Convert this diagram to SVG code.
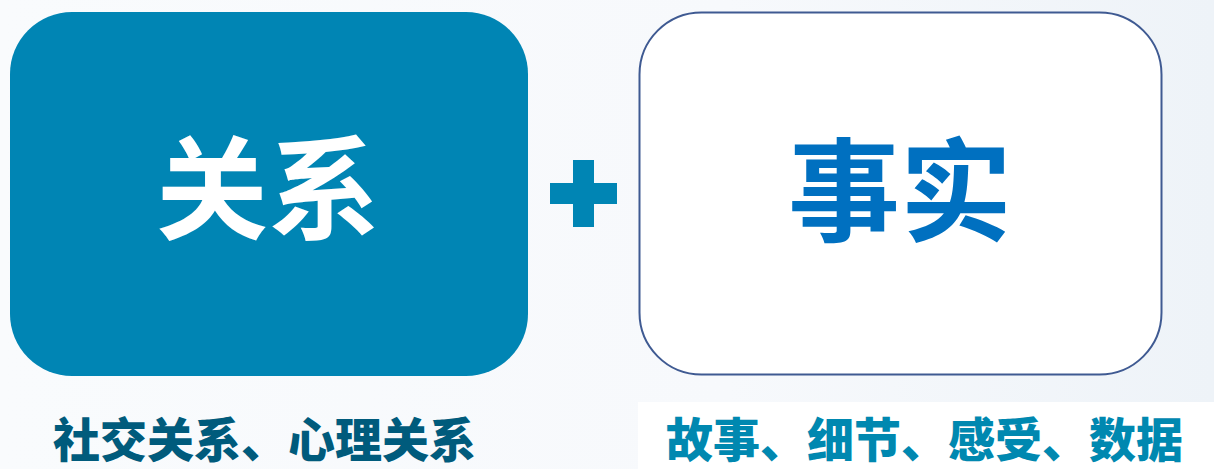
<svg xmlns="http://www.w3.org/2000/svg" width="1214" height="469" viewBox="0 0 1214 469">
  <defs>
    <linearGradient id="bg" x1="0" y1="0" x2="1" y2="0">
      <stop offset="0" stop-color="#f9fbfd"/>
      <stop offset="0.6" stop-color="#f7f9fc"/>
      <stop offset="1" stop-color="#eef3f8"/>
    </linearGradient>
    <style>
      .title { font-family: "Noto Sans CJK SC", sans-serif; font-weight: 700; font-size: 112px; text-anchor: middle; }
      .label { font-family: "Noto Sans CJK SC", sans-serif; font-weight: 900; font-size: 47px; }
    </style>
  </defs>
  <rect x="0" y="0" width="1214" height="469" fill="url(#bg)"/>
  <rect x="638" y="402" width="576" height="67" fill="#ffffff"/>

  <g id="node-relation">
    <rect x="10" y="12" width="518" height="364" rx="62" ry="62" fill="#0085b4"/>
    <text class="title" x="268" y="231" fill="#ffffff">关系</text>
  </g>

  <g id="plus">
    <rect x="550" y="183" width="67" height="21" fill="#0085b4"/>
    <rect x="573" y="160" width="21" height="67" fill="#0085b4"/>
  </g>

  <g id="node-fact">
    <rect x="639.5" y="12.5" width="522" height="362" rx="62" ry="62" fill="#ffffff" stroke="#3f5a92" stroke-width="2"/>
    <text class="title" x="900" y="233" fill="#0070c0">事实</text>
  </g>

  <g id="connectors"></g>

  <g id="label-left">
    <text class="label" x="53" y="457" fill="#005b7c">社交关系、心理关系</text>
  </g>
  <g id="label-right">
    <text class="label" x="666" y="457" fill="#0088b0">故事、细节、感受、数据</text>
  </g>
</svg>
